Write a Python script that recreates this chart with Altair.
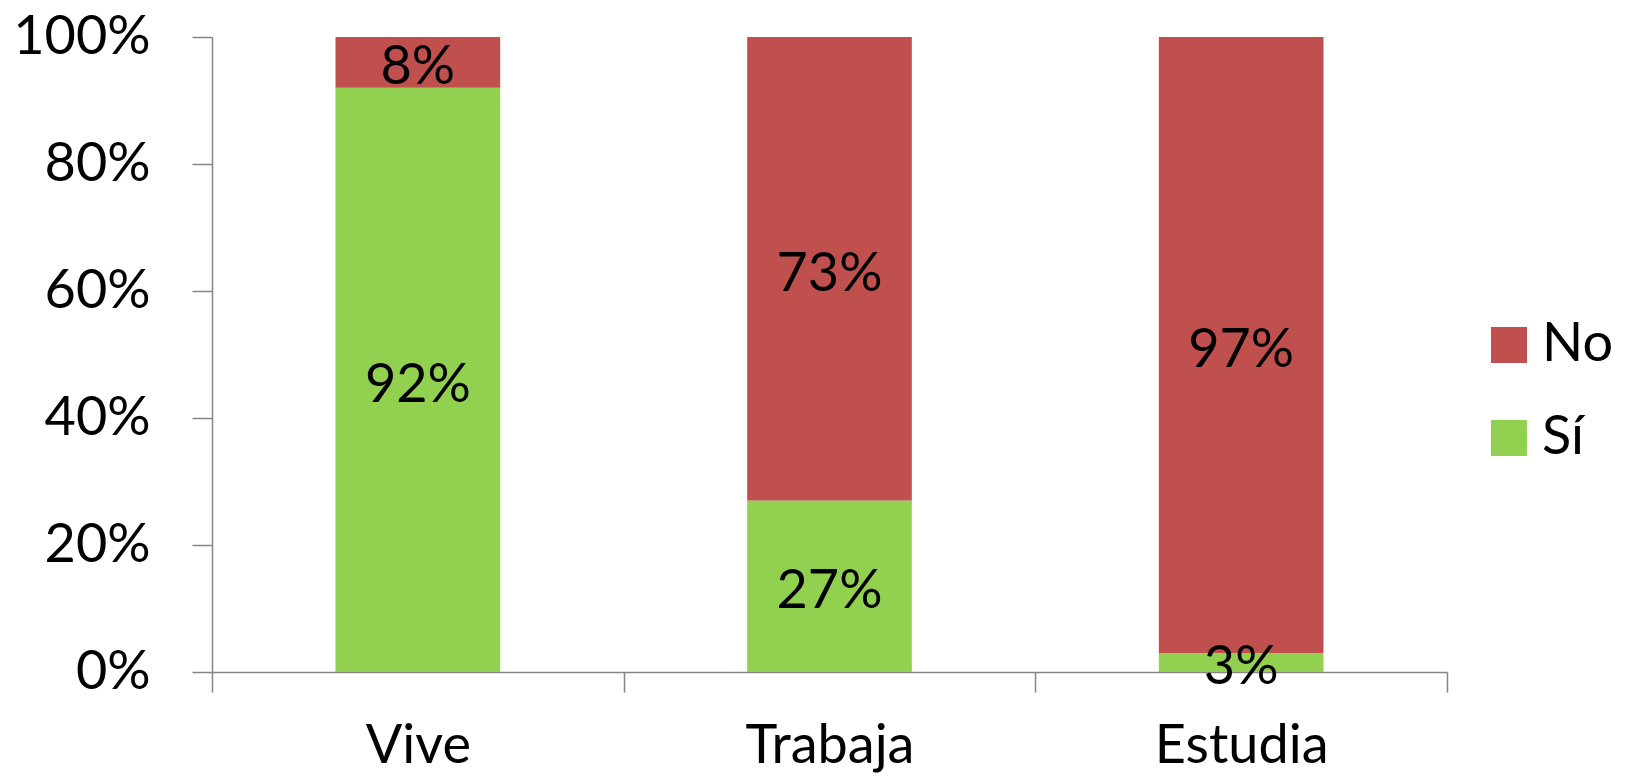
import altair as alt
import pandas as pd

categorias = ["Vive", "Trabaja", "Estudia"]
si_valores = [92, 27, 3]
no_valores = [8, 73, 97]
series = ["No", "Sí"]
colores = ["#C0504D", "#92D050"]
y_ticks = [0, 20, 40, 60, 80, 100]

rows = []
for c, s, n in zip(categorias, si_valores, no_valores):
    rows.append({"cat": c, "serie": "Sí", "valor": s, "orden": 0})
    rows.append({"cat": c, "serie": "No", "valor": n, "orden": 1})
df = pd.DataFrame(rows)

FONT = "Lato"
FS = 54

base = alt.Chart(df).transform_stack(
    stack="valor", as_=["y0", "y1"], groupby=["cat"], sort=[alt.SortField("orden")]
).transform_calculate(mid="(datum.y0 + datum.y1) / 2", etiqueta="datum.valor + '%'")

x_enc = alt.X(
    "cat:N", sort=categorias, title=None,
    scale=alt.Scale(paddingInner=0, paddingOuter=0),
    axis=alt.Axis(labelAngle=0, labelFontSize=FS, labelFont=FONT, labelColor="#000000",
                  labelPadding=27, tickBand="extent", tickSize=20, tickColor="#868686",
                  domainColor="#868686", domainWidth=1.5, tickWidth=1.5, labelBaseline="top"),
)

bars = base.mark_bar(width=alt.RelativeBandSize(0.4)).encode(
    x=x_enc,
    y=alt.Y("y0:Q", title=None, scale=alt.Scale(domain=[0, 100], nice=False),
            axis=alt.Axis(values=y_ticks, labelExpr="datum.value + '%'", grid=False,
                          labelFontSize=FS, labelFont=FONT, labelColor="#000000",
                          labelPadding=42, tickSize=20, tickColor="#868686",
                          domainColor="#868686", domainWidth=1.5, tickWidth=1.5)),
    y2="y1:Q",
    color=alt.Color("serie:N", scale=alt.Scale(domain=series, range=colores), title=None,
                    legend=alt.Legend(orient="none", legendX=1270, legendY=281,
                                      symbolType="square", symbolSize=1296,
                                      symbolStrokeWidth=0, labelFontSize=FS, labelFont=FONT,
                                      labelColor="#000000", labelOffset=6, rowPadding=39,
                                      labelLimit=300)),
)

labels = base.mark_text(font=FONT, fontSize=FS, color="#000000", baseline="middle",
                        align="center", dy=6).encode(
    x=alt.X("cat:N", sort=categorias),
    y=alt.Y("mid:Q"),
    text="etiqueta:N",
)

chart = alt.layer(bars, labels).properties(
    width=1235, height=635,
    background="white",
    autosize=alt.AutoSizeParams(type="none"),
    padding={"left": 204, "top": 29, "right": 174, "bottom": 104},
).configure_view(stroke=None)

chart.save("out.html", embed_options={"renderer": "svg", "actions": False})
